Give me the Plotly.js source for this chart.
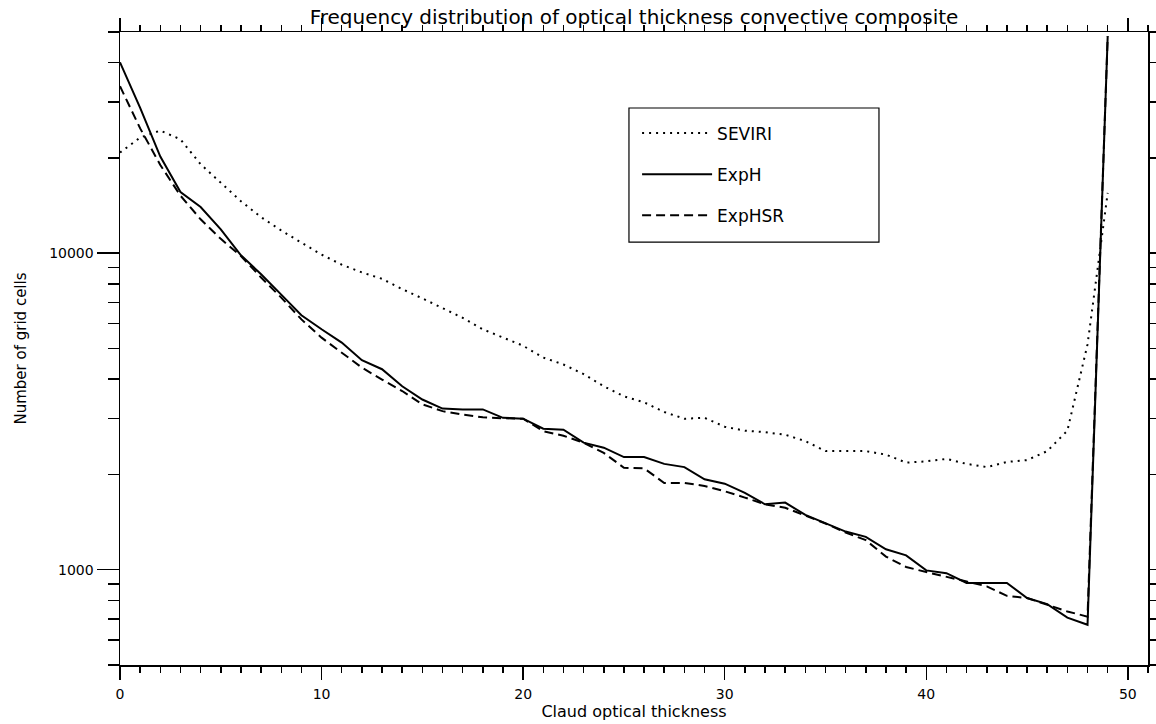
<!DOCTYPE html>
<html>
<head>
<meta charset="utf-8">
<script src="https://cdn.plot.ly/plotly-3.0.1.min.js"></script>
<style>
  html, body { margin: 0; padding: 0; background: #ffffff; }
  #chart { width: 1156px; height: 724px; }
</style>
</head>
<body>
<div id="chart"></div>
<script>
// Cloud optical thickness bins
const opticalThickness = [
  0, 1, 2, 3, 4, 5, 6, 7, 8, 9,
  10, 11, 12, 13, 14, 15, 16, 17, 18, 19,
  20, 21, 22, 23, 24, 25, 26, 27, 28, 29,
  30, 31, 32, 33, 34, 35, 36, 37, 38, 39,
  40, 41, 42, 43, 44, 45, 46, 47, 48, 49
];

// Number of grid cells per series
const seviri = [
  20800, 23200, 24400, 22900, 19100, 16700, 14600, 13000, 11800, 10800,
  9900, 9200, 8700, 8300, 7700, 7200, 6700, 6250, 5750, 5400,
  5100, 4680, 4450, 4150, 3800, 3530, 3380, 3150, 3000, 3020,
  2830, 2750, 2720, 2670, 2550, 2370, 2370, 2370, 2310, 2180,
  2200, 2240, 2160, 2110, 2190, 2220, 2370, 2750, 5150, 15500
];

const expH = [
  40100, 28800, 20200, 15600, 14000, 11900, 9850, 8580, 7400, 6370,
  5750, 5220, 4590, 4300, 3800, 3450, 3230, 3210, 3210, 3020,
  3000, 2790, 2770, 2520, 2430, 2270, 2270, 2160, 2110, 1930,
  1870, 1750, 1610, 1630, 1490, 1400, 1320, 1270, 1160, 1110,
  995, 975, 908, 908, 908, 814, 779, 706, 670, 48500
];

const expHSR = [
  33700, 24800, 19000, 15200, 12800, 11100, 9800, 8380, 7240, 6180,
  5410, 4850, 4350, 3990, 3670, 3330, 3170, 3090, 3030, 3010,
  3000, 2740, 2650, 2520, 2340, 2100, 2090, 1880, 1880, 1840,
  1770, 1690, 1610, 1570, 1480, 1400, 1310, 1240, 1100, 1020,
  983, 952, 918, 886, 827, 814, 776, 738, 711, 48500
];

// Axis ticks
const xMajorTicks = [0, 10, 20, 30, 40, 50];
const xTickLabels = ['0', '10', '20', '30', '40', '50'];
const yMajorTicks = [1000, 10000];
const yTickLabels = ['1000', '10000'];
const yMinorTicks = [500, 600, 700, 800, 900, 2000, 3000, 4000, 5000, 6000, 7000, 8000, 9000, 20000, 30000, 40000, 50000];

const FONT = 'DejaVu Sans, Liberation Sans, sans-serif';

const traces = [
  {
    x: opticalThickness, y: seviri, name: 'SEVIRI', type: 'scatter', mode: 'lines',
    line: { color: '#000000', width: 2, dash: '2px,5px' }, legendgroup: 'a'
  },
  {
    x: opticalThickness, y: expH, name: 'ExpH', type: 'scatter', mode: 'lines',
    line: { color: '#000000', width: 2 }, legendgroup: 'b'
  },
  {
    x: opticalThickness, y: expHSR, name: 'ExpHSR', type: 'scatter', mode: 'lines',
    line: { color: '#000000', width: 2, dash: '9px,5px' }, legendgroup: 'c'
  }
];

const layout = {
  width: 1156, height: 724,
  paper_bgcolor: '#ffffff', plot_bgcolor: '#ffffff',
  margin: { l: 120, r: 8, t: 32, b: 59, pad: 0 },
  font: { family: FONT, color: '#000000', size: 14 },
  title: {
    text: 'Frequency distribution of optical thickness convective composite',
    font: { family: FONT, size: 20, color: '#000000' },
    x: 0.5, xref: 'paper', y: 1 - 17 / 724, yref: 'container', yanchor: 'middle'
  },
  showlegend: true,
  legend: {
    x: 0.503, xanchor: 'left', y: 0.868, yanchor: 'top',
    bgcolor: 'rgba(0,0,0,0)', borderwidth: 0,
    font: { family: FONT, size: 17, color: '#000000' },
    tracegroupgap: 16, itemwidth: 70, traceorder: 'grouped'
  },
  shapes: [
    {
      type: 'rect', xref: 'paper', yref: 'paper',
      x0: 0.4951, x1: 0.7383, y0: 0.6682, y1: 0.8799,
      line: { color: '#000000', width: 1.2 }, fillcolor: 'rgba(0,0,0,0)'
    }
  ],
  xaxis: {
    range: [0, 51], autorange: false,
    showline: true, linecolor: '#000000', linewidth: 1.5, mirror: 'ticks',
    showgrid: false, zeroline: false,
    ticks: 'outside', ticklen: 13, tickwidth: 1.5, tickcolor: '#000000',
    tickmode: 'array', tickvals: xMajorTicks, ticktext: xTickLabels,
    ticklabelstandoff: 3,
    tickfont: { family: FONT, size: 14, color: '#000000' },
    minor: { tickmode: 'linear', tick0: 0, dtick: 1, ticks: 'outside', ticklen: 6, tickwidth: 1.5, tickcolor: '#000000', showgrid: false },
    title: { text: 'Claud optical thickness', font: { family: FONT, size: 16, color: '#000000' }, standoff: 4 }
  },
  yaxis: {
    type: 'log', range: [Math.log10(500), Math.log10(50000)], autorange: false,
    showline: true, linecolor: '#000000', linewidth: 1.5, mirror: 'ticks',
    showgrid: false, zeroline: false,
    ticks: 'outside', ticklen: 22, tickwidth: 1.5, tickcolor: '#000000',
    tickmode: 'array', tickvals: yMajorTicks, ticktext: yTickLabels,
    tickfont: { family: FONT, size: 14, color: '#000000' },
    minor: { tickmode: 'array', tickvals: yMinorTicks, ticks: 'outside', ticklen: 11, tickwidth: 1.5, tickcolor: '#000000', showgrid: false },
    title: { text: 'Number of grid cells', font: { family: FONT, size: 15, color: '#000000' }, standoff: 19 }
  }
};

Plotly.newPlot('chart', traces, layout, { displayModeBar: false, staticPlot: true });
</script>
</body>
</html>
